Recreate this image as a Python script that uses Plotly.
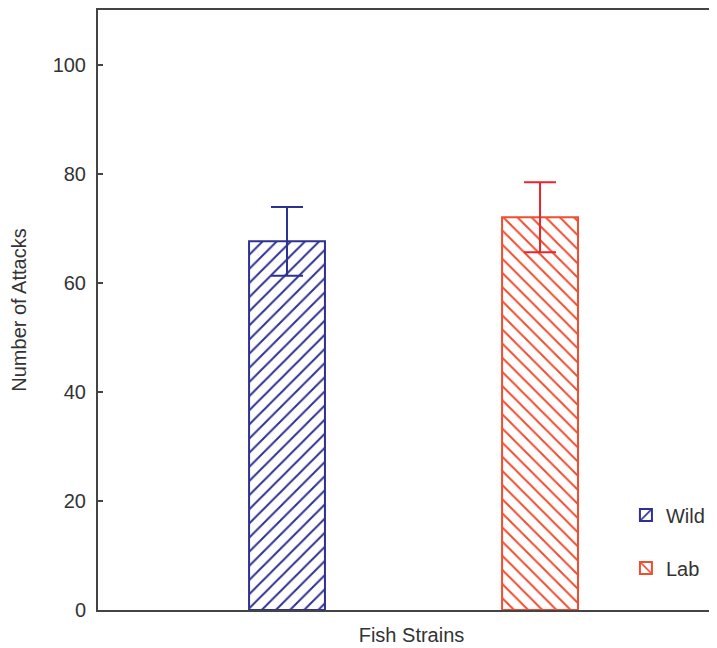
import plotly.graph_objects as go

strains = ["Wild", "Lab"]
attacks = [67.6, 72.0]
errors = [6.3, 6.4]
colors = ["#2e3192", "#f04e30"]
err_colors = ["#2e3192", "#e8242c"]
shapes = ["/", "\\"]

fig = go.Figure()
for i, s in enumerate(strains):
    fig.add_trace(go.Bar(
        x=[i], y=[attacks[i]], name=s, width=0.3,
        legendgroup=s,
        marker=dict(color="white", line=dict(color=colors[i], width=2),
                    pattern=dict(shape=shapes[i], fgcolor=colors[i], bgcolor="white",
                                 size=10, solidity=0.2, fillmode="replace")),
        error_y=dict(type="data", array=[errors[i]], color=err_colors[i], thickness=2, width=16),
    ))

fig.update_layout(
    width=717, height=648,
    margin=dict(l=90, r=0, t=0, b=46),
    plot_bgcolor="white", paper_bgcolor="white",
    barmode="overlay",
    font=dict(family="Liberation Sans, Arial", size=20, color="#333333"),
    showlegend=True,
    legend=dict(x=0.842, y=0.191, xanchor="left", yanchor="top",
                traceorder="grouped", tracegroupgap=24,
                font=dict(size=20, color="#333333"), bgcolor="rgba(0,0,0,0)"),
    xaxis=dict(range=[-0.747, 1.731], showline=True, linecolor="#444444", linewidth=2,
               mirror=True, showticklabels=False, ticks="", showgrid=False, zeroline=False,
               title=dict(text="Fish Strains", standoff=17, font=dict(size=20))),
    yaxis=dict(range=[0, 110], tickvals=[0, 20, 40, 60, 80, 100], showline=True,
               linecolor="#444444", linewidth=2, ticks="inside", ticklen=5, tickwidth=1.5,
               tickcolor="#444444", showgrid=False, zeroline=False, ticklabelstandoff=6,
               title=dict(text="Number of Attacks", standoff=22, font=dict(size=20))),
)

fig.write_html("out.html")
